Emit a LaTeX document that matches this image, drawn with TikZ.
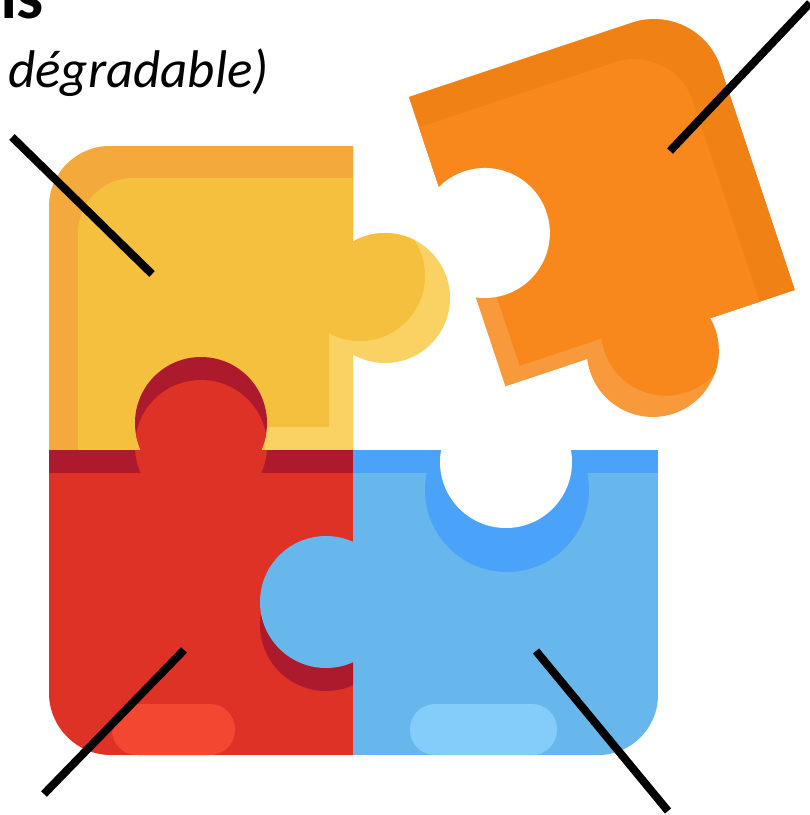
\documentclass[tikz,border=0pt]{standalone}
\usepackage{fontspec}
\setmainfont{Carlito}
\definecolor{yellowrim}{HTML}{F4A93C}
\definecolor{yellowmain}{HTML}{F4C03E}
\definecolor{yellowlight}{HTML}{FAD264}
\definecolor{redmain}{HTML}{DE3226}
\definecolor{reddark}{HTML}{AD1A2E}
\definecolor{redpill}{HTML}{F44731}
\definecolor{bluemain}{HTML}{67B7EC}
\definecolor{bluedark}{HTML}{4AA3F8}
\definecolor{bluepill}{HTML}{84CDFA}
\definecolor{orangemain}{HTML}{F8881C}
\definecolor{orangedark}{HTML}{F08114}
\definecolor{orangelight}{HTML}{F89A3C}
\tikzset{lead/.style={black,line width=8pt}}

\begin{document}
\begin{tikzpicture}[x=1pt,y=-1pt]
  \useasboundingbox (0,0) rectangle (810,815);
  \fill[white] (0,0) rectangle (810,815);

  % Caption, cut by the page
  \node[anchor=base east,font=\bfseries\fontsize{68}{76}\selectfont,inner sep=0pt] (title) at (44,18) {ns};
  \node[anchor=base west,font=\itshape\fontsize{53}{64}\selectfont,inner sep=0pt] (subtitle) at (8,87) {dégradable)};

  % Orange piece, turned
  \begin{scope}[shift={(409,97)},rotate=18.43]
    \fill[orangelight] (0,0) [rounded corners=70] -- (305,0) [sharp corners] -- (305,305) -- (0,305) -- cycle;
    \fill[orangelight] (151,318) circle (66);
    \fill[orangedark] (0,0) [rounded corners=70] -- (305,0) [sharp corners] -- (305,305) -- (216,305) -- (216,200) -- (0,100) -- cycle;
    \fill[orangemain] (0,32) [rounded corners=62] -- (268,32) [sharp corners] -- (268,305) -- (107,305) -- (107,290) -- (20,290) -- (20,200) -- (0,200) -- cycle;
    \begin{scope}
      \clip (151,318) circle (66);
      \fill[orangemain] (170,303) circle (65);
    \end{scope}
    \fill[white] (29,153) circle (65);
  \end{scope}

  % Yellow piece
  \fill[yellowlight] (49,450) [rounded corners=61] -- (49,146) [sharp corners] -- (353,146) -- (353,450) -- cycle;
  \fill[yellowlight] (385,298) circle (65);
  \fill[yellowrim] (49,450) [rounded corners=61] -- (49,146) [sharp corners] -- (353,146) -- (353,200) -- (200,300) -- (78,450) -- cycle;
  \fill[yellowmain] (78,450) [rounded corners=55] -- (78,178) [sharp corners] -- (353,178) -- (353,333) -- (329,333) -- (329,427) -- (265,427) -- (265,450) -- cycle;
  \begin{scope}
    \clip (385,298) circle (65);
    \fill[yellowmain] (360,276) circle (65);
  \end{scope}

  % Blue piece
  \begin{scope}
    \clip (353,450) -- (658,450) [rounded corners=60] -- (658,755) [sharp corners] -- (353,755) -- cycle;
    \fill[bluemain] (353,450) rectangle (658,755);
    \fill[bluedark] (353,450) rectangle (658,473);
    \fill[bluedark] (507,490) circle (82);
    \fill[white] (506,462) circle (66);
    \fill[bluepill,rounded corners=25] (410,704) rectangle (557,755);
  \end{scope}

  % Red piece
  \fill[reddark] (201,423) circle (66);
  \begin{scope}
    \clip (201,423) circle (66);
    \fill[redmain] (201,446) circle (66);
  \end{scope}
  \begin{scope}
    \clip (49,450) -- (353,450) -- (353,755) [rounded corners=62] -- (49,755) [sharp corners] -- cycle;
    \fill[redmain] (49,450) rectangle (353,755);
    \fill[reddark] (49,450) rectangle (353,473);
    \fill[reddark] (326,625) circle (66);
    \fill[redpill,rounded corners=25] (112,704) rectangle (235,755);
    \fill[redmain] (201,446) circle (66);
  \end{scope}
  \fill[bluemain] (326,602) circle (66);

  % Leader lines
  \coordinate (yellowend) at (152,274);
  \coordinate (yellowfree) at (12,137);
  \coordinate (orangeend) at (670,151);
  \coordinate (orangefree) at (810,3);
  \coordinate (redend) at (184,650);
  \coordinate (redfree) at (44,794);
  \coordinate (blueend) at (536,651);
  \coordinate (bluefree) at (668,811);
  \draw[lead] (yellowfree) -- (yellowend);
  \draw[lead] (orangefree) -- (orangeend);
  \draw[lead] (redfree) -- (redend);
  \draw[lead] (bluefree) -- (blueend);
\end{tikzpicture}
\end{document}
